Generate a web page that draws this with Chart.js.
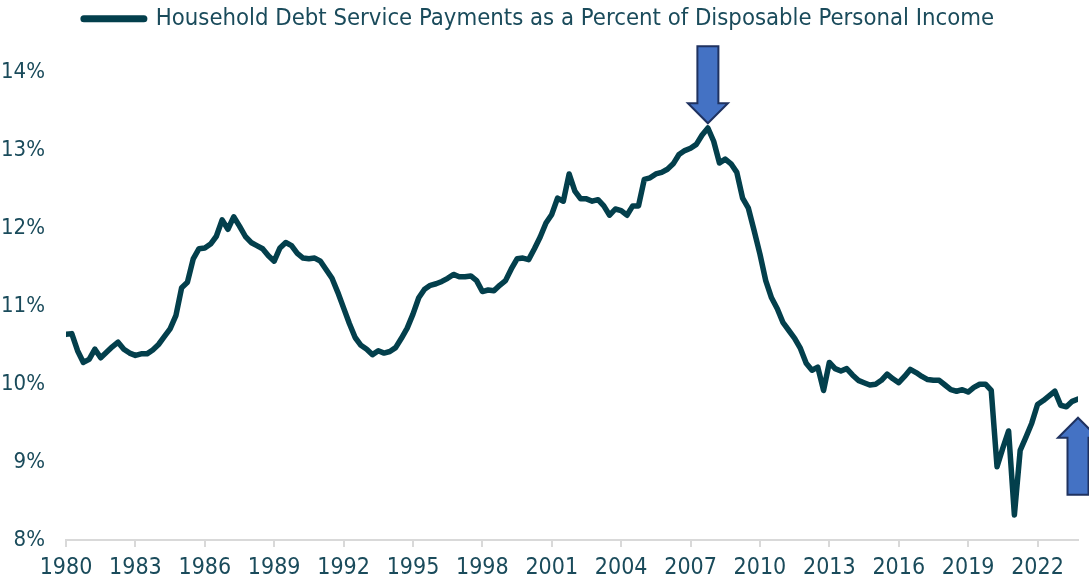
<!DOCTYPE html>
<html>
<head>
<meta charset="utf-8">
<script src="https://cdn.jsdelivr.net/npm/chart.js@4.4.1/dist/chart.umd.min.js"></script>
<style>
    html, body { margin: 0; padding: 0; background: #fff; }
</style>
</head>
<body>
<canvas id="chart_dsr" width="1089" height="581"></canvas>
<script>
// quarterly, starting 1980 Q1
var startYear = 1980;
var dsr1980s = [
    10.64, 10.65, 10.43, 10.28, 10.32, 10.45, 10.34, 10.41, 10.48, 10.54,
    10.45, 10.40, 10.37, 10.39, 10.39, 10.44, 10.51, 10.61, 10.71, 10.88,
    11.24, 11.31, 11.61, 11.74, 11.75, 11.80, 11.90, 12.11, 11.99, 12.15,
    12.03, 11.90, 11.82, 11.78, 11.74, 11.65, 11.58, 11.75, 11.82, 11.78
];
var dsr1990s = [
    11.68, 11.62, 11.61, 11.62, 11.58, 11.47, 11.36, 11.18, 10.98, 10.78,
    10.60, 10.50, 10.45, 10.38, 10.43, 10.40, 10.42, 10.47, 10.59, 10.72,
    10.90, 11.11, 11.22, 11.27, 11.29, 11.32, 11.36, 11.41, 11.38, 11.38,
    11.39, 11.33, 11.19, 11.21, 11.20, 11.27, 11.33, 11.48, 11.61, 11.62
];
var dsr2000s = [
    11.60, 11.74, 11.89, 12.07, 12.18, 12.39, 12.35, 12.70, 12.48, 12.38,
    12.38, 12.35, 12.37, 12.29, 12.17, 12.25, 12.23, 12.17, 12.29, 12.29,
    12.63, 12.65, 12.70, 12.72, 12.76, 12.83, 12.95, 13.00, 13.03, 13.08,
    13.20, 13.29, 13.12, 12.84, 12.89, 12.83, 12.72, 12.39, 12.26, 11.97
];
var dsr2010s = [
    11.67, 11.33, 11.11, 10.97, 10.79, 10.69, 10.59, 10.46, 10.27, 10.18,
    10.22, 9.92, 10.28, 10.20, 10.17, 10.20, 10.12, 10.05, 10.02, 9.99,
    10.00, 10.05, 10.13, 10.07, 10.02, 10.10, 10.19, 10.15, 10.10, 10.06,
    10.05, 10.05, 9.99, 9.93, 9.91, 9.93, 9.90, 9.96, 10.00, 10.00
];
var dsr2020s = [
    9.92, 8.94, 9.18, 9.40, 8.32, 9.15, 9.32, 9.50, 9.74, 9.79,
    9.85, 9.91, 9.73, 9.71, 9.78, 9.81
];
var yearTicks = [1980, 1983, 1986, 1989, 1992, 1995, 1998, 2001, 2004, 2007, 2010, 2013, 2016, 2019, 2022];
var seriesLabel = 'Household Debt Service Payments as a Percent of Disposable Personal Income';

// arrow tips (year, value)
var arrowYears = [2007.75, 2023.75];
var arrowValues = [13.35, 9.57];
var arrowDirs = ['down', 'up'];

var debtService = dsr1980s.concat(dsr1990s, dsr2000s, dsr2010s, dsr2020s);
var points = debtService.map(function (v, i) {
    return { x: startYear + i / 4, y: v };
});

var lineColor = '#033f4c';
var textColor = '#1a4b5b';
var narrowFont = "'Liberation Sans Narrow', 'DejaVu Sans Condensed', 'Liberation Sans', sans-serif";

var arrowPlugin = {
    id: 'arrows',
    afterDatasetsDraw: function (chart) {
        var ctx = chart.ctx;
        var xs = chart.scales.x, ys = chart.scales.y;
        var headHalf = 20, shaftHalf = 10.5, headLen = 20, totalLen = 77;
        ctx.save();
        for (var k = 0; k < arrowYears.length; k++) {
            var tx = xs.getPixelForValue(arrowYears[k]);
            var ty = ys.getPixelForValue(arrowValues[k]);
            var s = arrowDirs[k] === 'down' ? -1 : 1;
            ctx.beginPath();
            ctx.moveTo(tx, ty);
            ctx.lineTo(tx + headHalf, ty + s * headLen);
            ctx.lineTo(tx + shaftHalf, ty + s * headLen);
            ctx.lineTo(tx + shaftHalf, ty + s * totalLen);
            ctx.lineTo(tx - shaftHalf, ty + s * totalLen);
            ctx.lineTo(tx - shaftHalf, ty + s * headLen);
            ctx.lineTo(tx - headHalf, ty + s * headLen);
            ctx.closePath();
            ctx.fillStyle = '#4472c4';
            ctx.fill();
            ctx.lineWidth = 2;
            ctx.strokeStyle = '#1f3260';
            ctx.stroke();
        }
        ctx.restore();
    }
};

// extra room between the legend and the plot
var legendGap = {
    id: 'legendGap',
    beforeInit: function (chart) {
        var fit = chart.legend.fit;
        chart.legend.fit = function () {
            fit.bind(chart.legend)();
            this.height += 32;
        };
    }
};

var ctx = document.getElementById('chart_dsr').getContext('2d');
var dsrChart = new Chart(ctx, {
    type: 'line',
    data: {
        datasets: [{
            label: seriesLabel,
            data: points,
            borderColor: lineColor,
            backgroundColor: lineColor,
            borderWidth: 5.5,
            borderJoinStyle: 'round',
            borderCapStyle: 'round',
            pointRadius: 0,
            tension: 0,
            fill: false
        }]
    },
    options: {
        responsive: false,
        animation: false,
        layout: {
            padding: { top: 1, right: 11, left: 0, bottom: 0 }
        },
        plugins: {
            tooltip: { enabled: false },
            legend: {
                display: true,
                position: 'top',
                labels: {
                    usePointStyle: true,
                    pointStyle: 'line',
                    pointStyleWidth: 60,
                    color: textColor,
                    padding: 6,
                    font: { family: narrowFont, size: 23.7 },
                    generateLabels: function (chart) {
                        var items = Chart.defaults.plugins.legend.labels.generateLabels(chart);
                        items.forEach(function (it) { it.lineWidth = 7; it.lineCap = 'round'; });
                        return items;
                    }
                }
            }
        },
        scales: {
            x: {
                type: 'linear',
                min: startYear,
                max: startYear + (debtService.length - 1) / 4,
                afterBuildTicks: function (axis) {
                    axis.ticks = yearTicks.map(function (y) { return { value: y }; });
                },
                afterFit: function (scale) { scale.height = 41; },
                grid: {
                    drawOnChartArea: false,
                    drawTicks: true,
                    tickLength: 7,
                    color: '#d9d9d9',
                    lineWidth: 2
                },
                border: { display: true, color: '#d9d9d9', width: 2 },
                ticks: {
                    autoSkip: false,
                    maxRotation: 0,
                    padding: 7,
                    color: textColor,
                    font: { family: narrowFont, size: 23 },
                    callback: function (value) { return String(value); }
                }
            },
            y: {
                min: 8,
                max: 14,
                afterFit: function (scale) { scale.width = 66; },
                grid: { display: false, drawTicks: false },
                border: { display: false },
                ticks: {
                    stepSize: 1,
                    padding: 21,
                    color: textColor,
                    font: { family: narrowFont, size: 22 },
                    callback: function (value) { return value + '%'; }
                }
            }
        }
    },
    plugins: [legendGap, arrowPlugin]
});
</script>
</body>
</html>
